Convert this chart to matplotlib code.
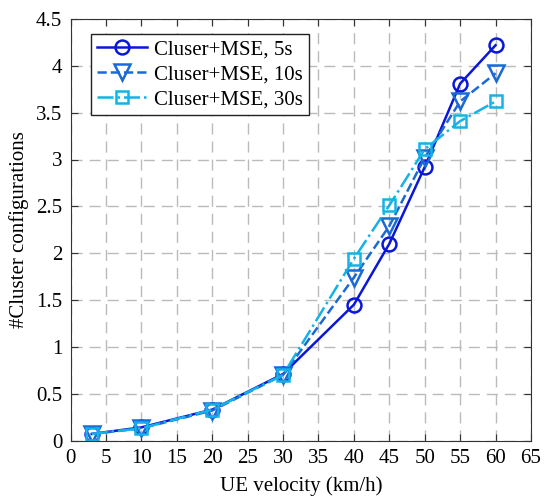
import matplotlib.pyplot as plt

plt.rcParams['font.family'] = ['Liberation Serif', 'DejaVu Serif']
plt.rcParams['mathtext.fontset'] = 'stix'

velocity = [3, 10, 20, 30, 40, 45, 50, 55, 60]
mse_5s = [0.07, 0.14, 0.33, 0.71, 1.45, 2.10, 2.92, 3.81, 4.22]
mse_10s = [0.07, 0.13, 0.32, 0.70, 1.74, 2.29, 3.02, 3.62, 3.92]
mse_30s = [0.07, 0.13, 0.33, 0.70, 1.94, 2.51, 3.11, 3.41, 3.62]

fig = plt.figure(figsize=(5.51, 4.97), dpi=100)
ax = fig.add_axes([70.5 / 551, 1 - 440.5 / 497, 460.5 / 551, 421.5 / 497])

ax.plot(velocity, mse_5s, '-', color='#0a17d9', lw=1.8, marker='o', ms=10,
        mfc='none', mew=1.8, label='Cluser+MSE, 5s')
ax.plot(velocity, mse_10s, '--', color='#1a6ad6', lw=1.8, marker='v', ms=11,
        mfc='none', mew=1.8, label='Cluser+MSE, 10s')
ax.plot(velocity, mse_30s, '-.', color='#14b2e6', lw=1.8, marker='s', ms=8,
        mfc='none', mew=1.8, label='Cluser+MSE, 30s')

ax.set_xlim(0, 65)
ax.set_ylim(0, 4.5)
ax.set_xticks(range(0, 66, 5))
ax.set_yticks([0, 0.5, 1, 1.5, 2, 2.5, 3, 3.5, 4, 4.5])
ax.set_yticklabels(['0', '0.5', '1', '1.5', '2', '2.5', '3', '3.5', '4', '4.5'])
ax.tick_params(direction='in', top=True, right=True, labelsize=15, length=5,
               color='#333333', pad=6)
ax.grid(True, linestyle=(0, (8, 5)), color='#bbbbbb', lw=1.0)
for s in ax.spines.values():
    s.set_color('#333333')

ax.set_xlabel('UE velocity (km/h)', fontsize=15, labelpad=6)
ax.set_ylabel('#Cluster configurations', fontsize=15, labelpad=5)

leg = ax.legend(loc='upper left', bbox_to_anchor=(0.045, 0.965), fontsize=15,
                fancybox=False, edgecolor='#222222', framealpha=1,
                handlelength=2.4, borderpad=0.3, labelspacing=0.25,
                handletextpad=0.3, borderaxespad=0)
leg.get_frame().set_linewidth(1.0)

fig.savefig('out.png', dpi=100)
